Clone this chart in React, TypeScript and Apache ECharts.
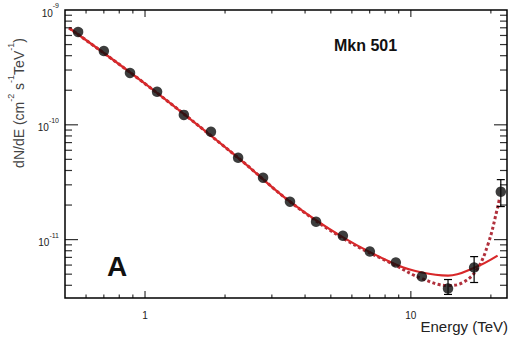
import React, { useEffect, useRef } from "react";
import * as echarts from "echarts";

// Axis ranges
const X_MIN = 0.5;
const X_MAX = 23;
const Y_MIN = 3.1e-12;
const Y_MAX = 1e-9;

// Measured spectrum (TeV, cm^-2 s^-1 TeV^-1)
const energy = [0.56, 0.7, 0.878, 1.11, 1.4, 1.77, 2.24, 2.78, 3.51, 4.4, 5.55, 7.01, 8.78, 11.0, 13.8, 17.3, 21.8];
const flux = [6.44e-10, 4.39e-10, 2.83e-10, 1.94e-10, 1.22e-10, 8.69e-11, 5.16e-11, 3.46e-11, 2.14e-11, 1.43e-11, 1.08e-11, 7.87e-12, 6.31e-12, 4.77e-12, 3.75e-12, 5.71e-12, 2.61e-11];

// Error bars on the high-energy points
const errEnergy = [13.8, 17.3, 21.8];
const errLow = [3.33e-12, 4.23e-12, 1.94e-11];
const errHigh = [4.49e-12, 7.11e-12, 3.33e-11];

// Solid model curve
const fitEnergy = [0.518, 1.0, 2.24, 3.51, 5.58, 8.78, 11.0, 13.8, 17.4, 21.2];
const fitFlux = [6.97e-10, 2.28e-10, 5.16e-11, 2.14e-11, 1.04e-11, 6.07e-12, 5.17e-12, 4.86e-12, 5.71e-12, 7.26e-12];

// Dotted model curve
const altEnergy = [0.518, 1.0, 2.24, 3.51, 5.58, 8.78, 11.0, 13.8, 15.7, 17.7, 19.5, 21.2, 21.5];
const altFlux = [6.97e-10, 2.28e-10, 5.16e-11, 2.14e-11, 1.02e-11, 5.94e-12, 4.58e-12, 3.98e-12, 4.23e-12, 5.48e-12, 9.06e-12, 1.9e-11, 2.23e-11];

// Tick positions
const xMajorTicks = [1, 10];
const xMinorTicks = [0.6, 0.7, 0.8, 0.9, 2, 3, 4, 5, 6, 7, 8, 9, 20];
const yMajorTicks = [1e-11, 1e-10];
const yMinorTicks = [
  4e-12, 5e-12, 6e-12, 7e-12, 8e-12, 9e-12,
  2e-11, 3e-11, 4e-11, 5e-11, 6e-11, 7e-11, 8e-11, 9e-11,
  2e-10, 3e-10, 4e-10, 5e-10, 6e-10, 7e-10, 8e-10, 9e-10,
];

const FONT = "Liberation Sans";
const TICK_W = 1.2;

function isDecade(v: number) {
  const l = Math.log10(v);
  return Math.abs(l - Math.round(l)) < 1e-6;
}

function seg(x1: number, y1: number, x2: number, y2: number) {
  return {
    type: "line",
    shape: { x1, y1, x2, y2 },
    style: { stroke: "#000", lineWidth: 1.2, fill: "none" },
  };
}

// A tick mark drawn as a thin rectangular symbol anchored on a frame edge
function xTick(v: number, len: number, top: boolean) {
  return {
    value: [v, top ? Y_MAX : Y_MIN],
    symbolSize: [TICK_W, len],
    symbolOffset: [0, top ? len / 2 : -len / 2],
  };
}
function yTick(v: number, len: number, right: boolean) {
  return {
    value: [right ? X_MAX : X_MIN, v],
    symbolSize: [len, TICK_W],
    symbolOffset: [right ? -len / 2 : len / 2, 0],
  };
}

const tickItems = [
  ...xMajorTicks.flatMap((v) => [xTick(v, 7, false), xTick(v, 7, true)]),
  ...xMinorTicks.flatMap((v) => [xTick(v, 3.5, false), xTick(v, 3.5, true)]),
  ...yMajorTicks.flatMap((v) => [yTick(v, 13, false), yTick(v, 13, true)]),
  ...yMinorTicks.flatMap((v) => [yTick(v, 7, false), yTick(v, 7, true)]),
];

export default function App() {
  const ref = useRef<HTMLDivElement>(null);

  useEffect(() => {
    if (!ref.current) return;
    const chart = echarts.init(ref.current, null, { renderer: "svg" });

    chart.setOption({
      animation: false,
      grid: {
        left: 65,
        right: 2,
        top: 10,
        bottom: 40,
        show: true,
        borderColor: "#000",
        borderWidth: 1.5,
        backgroundColor: "transparent",
      },
      xAxis: {
        type: "log",
        min: X_MIN,
        max: X_MAX,
        axisLine: { show: false },
        axisTick: { show: false },
        splitLine: { show: false },
        axisLabel: {
          color: "#222",
          fontFamily: FONT,
          fontSize: 10,
          margin: 12,
          formatter: (v: number) => (isDecade(v) ? String(Math.round(v)) : ""),
        },
      },
      yAxis: {
        type: "log",
        min: Y_MIN,
        max: Y_MAX,
        axisLine: { show: false },
        axisTick: { show: false },
        splitLine: { show: false },
        axisLabel: {
          color: "#222",
          fontFamily: FONT,
          margin: 6,
          formatter: (v: number) =>
            isDecade(v) ? `{base|10}{sup|${Math.round(Math.log10(v))}}` : "",
          rich: {
            base: { fontSize: 10, lineHeight: 16, verticalAlign: "bottom", fontFamily: FONT, color: "#222" },
            sup: { fontSize: 7, lineHeight: 9, verticalAlign: "top", fontFamily: FONT, color: "#222" },
          },
        },
      },
      graphic: [
        {
          type: "text",
          x: 334,
          y: 45,
          style: { text: "Mkn 501", font: `bold 16px "${FONT}"`, fill: "#111", verticalAlign: "middle" },
        },
        {
          type: "text",
          x: 107,
          y: 266,
          style: { text: "A", font: `bold 28px "${FONT}"`, fill: "#111", verticalAlign: "middle" },
        },
        {
          type: "text",
          x: 508,
          y: 326,
          style: {
            text: "Energy (TeV)",
            font: `15px "${FONT}"`,
            fill: "#222",
            align: "right",
            verticalAlign: "middle",
          },
        },
        {
          type: "text",
          x: 16,
          y: 103,
          rotation: Math.PI / 2,
          style: {
            text: "{b|dN/dE (cm}{s|-2}{b| s}{s|-1}{b|TeV}{s|-1}{b|)}",
            align: "center",
            verticalAlign: "middle",
            fill: "#444",
            rich: {
              b: { fontSize: 14, lineHeight: 20, verticalAlign: "bottom", fontFamily: FONT, fill: "#444" },
              s: { fontSize: 9, lineHeight: 11, verticalAlign: "top", fontFamily: FONT, fill: "#444" },
            },
          },
        },
      ],
      series: [
        {
          type: "line",
          data: altEnergy.map((e, i) => [e, altFlux[i]]),
          smooth: 0.4,
          symbol: "none",
          lineStyle: { color: "#b0303c", width: 3, type: [3, 2.5] },
          z: 2,
        },
        {
          type: "line",
          data: fitEnergy.map((e, i) => [e, fitFlux[i]]),
          smooth: 0.4,
          symbol: "none",
          lineStyle: { color: "#d8282a", width: 2.2 },
          z: 3,
        },
        {
          type: "custom",
          data: errEnergy.map((e, i) => [e, errLow[i], errHigh[i]]),
          renderItem: (_p: any, api: any) => {
            const lo = api.coord([api.value(0), api.value(1)]);
            const hi = api.coord([api.value(0), api.value(2)]);
            const w = 4;
            return {
              type: "group",
              children: [
                seg(lo[0], lo[1], hi[0], hi[1]),
                seg(lo[0] - w, lo[1], lo[0] + w, lo[1]),
                seg(hi[0] - w, hi[1], hi[0] + w, hi[1]),
              ],
            };
          },
          z: 4,
        },
        {
          type: "scatter",
          data: energy.map((e, i) => [e, flux[i]]),
          symbol: "circle",
          symbolSize: 10.5,
          itemStyle: { color: "#0d0d0d" },
          z: 5,
        },
        {
          // frame tick marks
          type: "scatter",
          data: tickItems,
          symbol: "rect",
          clip: false,
          silent: true,
          itemStyle: { color: "#000" },
          emphasis: { disabled: true },
          z: 6,
        },
      ],
    });

    return () => chart.dispose();
  }, []);

  return (
    <div
      ref={ref}
      style={{ position: "fixed", left: 0, top: 0, width: 510, height: 338, background: "#fff" }}
    />
  );
}
